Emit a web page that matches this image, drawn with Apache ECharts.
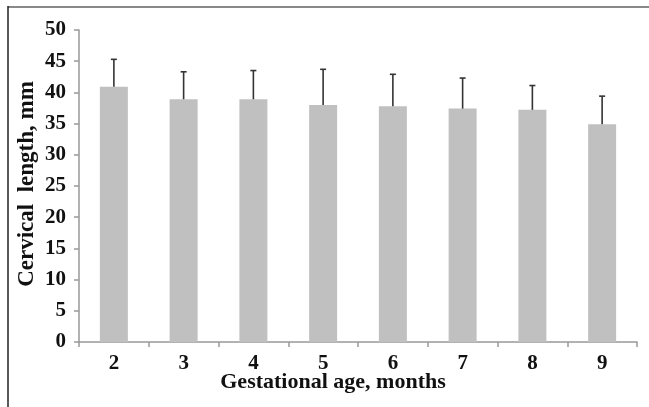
<!DOCTYPE html>
<html>
<head>
<meta charset="utf-8">
<script src="https://cdn.jsdelivr.net/npm/echarts@6/dist/echarts.min.js"></script>
<style>html,body{margin:0;padding:0;background:#fff;}#c{width:649px;height:407px;}</style>
</head>
<body>
<div id="c"></div>
<script>
var categories = ['2', '3', '4', '5', '6', '7', '8', '9'];
var means = [40.9, 38.9, 38.9, 38.0, 37.8, 37.4, 37.2, 34.9];
var upperErr = [45.3, 43.3, 43.5, 43.7, 42.9, 42.3, 41.1, 39.4];
var yTicks = { min: 0, max: 50, interval: 5 };

var chart = echarts.init(document.getElementById('c'), null, { renderer: 'canvas' });
var font = '"Liberation Serif", "Times New Roman", serif';
var errData = means.map(function (m, i) { return [i, m, upperErr[i]]; });

chart.setOption({
  animation: false,
  backgroundColor: '#fff',
  grid: { left: 79, right: 12, top: 30, bottom: 65 },
  xAxis: {
    type: 'category',
    data: categories,
    axisLine: { lineStyle: { color: '#999', width: 1.5 } },
    axisTick: { show: true, length: 5, alignWithLabel: false, lineStyle: { color: '#999', width: 1.5 } },
    axisLabel: { color: '#111', fontFamily: font, fontWeight: 'bold', fontSize: 21, margin: 11 }
  },
  yAxis: {
    type: 'value',
    min: yTicks.min, max: yTicks.max, interval: yTicks.interval,
    splitLine: { show: false },
    axisLine: { show: true, lineStyle: { color: '#999', width: 1.5 } },
    axisTick: { show: true, length: 5, lineStyle: { color: '#999', width: 1.5 } },
    axisLabel: { color: '#111', fontFamily: font, fontWeight: 'bold', fontSize: 21, margin: 13 }
  },
  series: [
    {
      type: 'bar',
      data: means,
      barWidth: 28,
      itemStyle: { color: '#c0c0c0' },
      z: 2
    },
    {
      type: 'custom',
      data: errData,
      z: 3,
      renderItem: function (params, api) {
        var x = api.value(0);
        var p0 = api.coord([x, api.value(1)]);
        var p1 = api.coord([x, api.value(2)]);
        var style = { stroke: '#333', lineWidth: 1.6 };
        return {
          type: 'group',
          children: [
            { type: 'line', shape: { x1: p0[0], y1: p0[1], x2: p1[0], y2: p1[1] }, style: style },
            { type: 'line', shape: { x1: p1[0] - 3, y1: p1[1], x2: p1[0] + 3, y2: p1[1] }, style: style }
          ]
        };
      }
    }
  ],
  graphic: [
    { type: 'line', shape: { x1: 8, y1: 7, x2: 649, y2: 7 }, style: { stroke: '#888', lineWidth: 2 } },
    { type: 'line', shape: { x1: 8, y1: 6, x2: 8, y2: 407 }, style: { stroke: '#222', lineWidth: 1.5 } },
    {
      type: 'text', x: 333, y: 382,
      style: { text: 'Gestational age, months', fill: '#111', font: 'bold 22px ' + font, textAlign: 'center', textVerticalAlign: 'middle' }
    },
    {
      type: 'text', x: 27, y: 184, rotation: Math.PI / 2,
      style: { text: 'Cervical  length, mm', fill: '#111', font: 'bold 23px ' + font, textAlign: 'center', textVerticalAlign: 'middle' }
    }
  ]
});
</script>
</body>
</html>
